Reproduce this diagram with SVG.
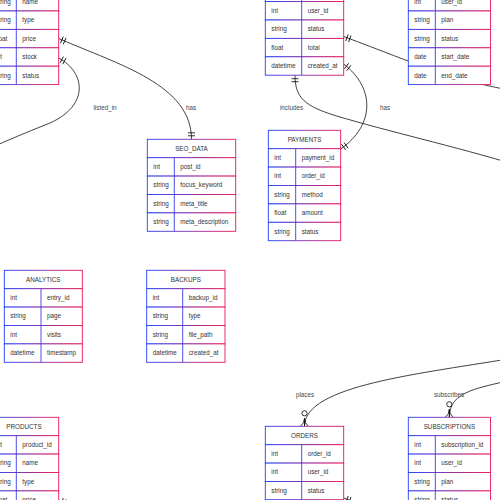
<svg xmlns="http://www.w3.org/2000/svg" width="500" height="500" viewBox="0 0 500 500">
<defs>
<linearGradient id="grad" x1="0" y1="0" x2="1" y2="0">
<stop offset="0" stop-color="#1f3fff"/>
<stop offset="1" stop-color="#f01450"/>
</linearGradient>
<marker id="one" viewBox="-10 -5 12 10" refX="0" refY="0" markerWidth="12" markerHeight="10" markerUnits="userSpaceOnUse" orient="auto-start-reverse" overflow="visible">
<path d="M-3.5,-3.5 V3.5 M-6.5,-3.5 V3.5" fill="none" stroke="#000" stroke-width="0.8"/>
</marker>
<marker id="many0" viewBox="-18 -6 20 12" refX="0" refY="0" markerWidth="20" markerHeight="12" markerUnits="userSpaceOnUse" orient="auto" overflow="visible">
<path d="M-8,0 Q-3,0 0,-4 M-8,0 L0,0 M-8,0 Q-3,0 0,4" fill="none" stroke="#000" stroke-width="0.8"/>
<circle cx="-13" cy="0" r="2.6" fill="#fff" stroke="#000" stroke-width="0.8"/>
</marker>
</defs>
<style>
.b{fill:#fff;stroke:url(#grad);stroke-width:0.9}
.dv{stroke:#3b3ae6;stroke-width:0.9}
.t{font-family:"Liberation Sans",Arial,sans-serif;font-size:6.3px;fill:#333}
.h{text-anchor:middle}
.e{fill:none;stroke:#111;stroke-width:0.8}
.lbl{font-family:"Liberation Sans",Arial,sans-serif;font-size:6.3px;fill:#444;text-anchor:middle}
</style>
<rect width="500" height="500" fill="#fff"/>

<g id="connectors">
<path class="e" d="M58.7,38.5 C120,65 191.5,85 191.5,139.3" marker-start="url(#one)" marker-end="url(#one)"/>
<path class="e" d="M58.7,38.5 C120,65 191.5,85 191.5,139.3" transform="translate(0,461.5)" marker-start="url(#one)"/>
<path class="e" d="M58.7,58 C85,72 90,105 50,123 C35,129 15,137 -5,146" marker-start="url(#one)"/>
<path class="e" d="M343.7,64 C375,88 375,125 340.7,149" marker-start="url(#one)" marker-end="url(#one)"/>
<path class="e" d="M295,75.2 C295,98 305,106 335,115.5 C390,132 450,145 520,166" marker-start="url(#one)"/>
<path class="e" d="M343.7,36.5 C420,65 450,80 520,92" marker-start="url(#one)"/>
<path class="e" d="M343.7,36.5 C420,65 450,80 520,92" transform="translate(0,461.5)" marker-start="url(#one)"/>
<path class="e" d="M520,357 C420,374 304.5,385 304.5,426.3" marker-end="url(#many0)"/>
<path class="e" d="M520,378 C480,388 449.3,390 449.3,417.3" marker-end="url(#many0)"/>
<text class="lbl" x="105" y="110">listed_in</text>
<text class="lbl" x="191" y="110">has</text>
<text class="lbl" x="291.5" y="110">includes</text>
<text class="lbl" x="385" y="110">has</text>
<text class="lbl" x="305" y="396.5">places</text>
<text class="lbl" x="449" y="396.5">subscribes</text>
</g>

<g id="products" transform="translate(-10.7,-44.2)">
<rect class="b" width="69.4" height="18.4"/>
<rect class="b" y="18.4" width="69.4" height="18.4"/>
<rect class="b" y="36.8" width="69.4" height="18.4"/>
<rect class="b" y="55.2" width="69.4" height="18.4"/>
<rect class="b" y="73.6" width="69.4" height="18.4"/>
<rect class="b" y="92" width="69.4" height="18.4"/>
<rect class="b" y="110.4" width="69.4" height="18.4"/>
<line class="dv" x1="27" y1="18.4" x2="27" y2="128.8"/>
<text class="t h" x="34.7" y="11.4">PRODUCTS</text>
<text class="t" x="6" y="29.8">int</text><text class="t" x="33" y="29.8">product_id</text>
<text class="t" x="6" y="48.2">string</text><text class="t" x="33" y="48.2">name</text>
<text class="t" x="6" y="66.6">string</text><text class="t" x="33" y="66.6">type</text>
<text class="t" x="6" y="85">float</text><text class="t" x="33" y="85">price</text>
<text class="t" x="6" y="103.4">int</text><text class="t" x="33" y="103.4">stock</text>
<text class="t" x="6" y="121.8">string</text><text class="t" x="33" y="121.8">status</text>
</g>

<g id="products-b" transform="translate(-10.7,417.3)">
<rect class="b" width="69.4" height="18.4"/>
<rect class="b" y="18.4" width="69.4" height="18.4"/>
<rect class="b" y="36.8" width="69.4" height="18.4"/>
<rect class="b" y="55.2" width="69.4" height="18.4"/>
<rect class="b" y="73.6" width="69.4" height="18.4"/>
<rect class="b" y="92" width="69.4" height="18.4"/>
<rect class="b" y="110.4" width="69.4" height="18.4"/>
<line class="dv" x1="27" y1="18.4" x2="27" y2="128.8"/>
<text class="t h" x="34.7" y="11.4">PRODUCTS</text>
<text class="t" x="6" y="29.8">int</text><text class="t" x="33" y="29.8">product_id</text>
<text class="t" x="6" y="48.2">string</text><text class="t" x="33" y="48.2">name</text>
<text class="t" x="6" y="66.6">string</text><text class="t" x="33" y="66.6">type</text>
<text class="t" x="6" y="85">float</text><text class="t" x="33" y="85">price</text>
<text class="t" x="6" y="103.4">int</text><text class="t" x="33" y="103.4">stock</text>
<text class="t" x="6" y="121.8">string</text><text class="t" x="33" y="121.8">status</text>
</g>

<g id="orders" transform="translate(265.3,-35.2)">
<rect class="b" width="78.4" height="18.4"/>
<rect class="b" y="18.4" width="78.4" height="18.4"/>
<rect class="b" y="36.8" width="78.4" height="18.4"/>
<rect class="b" y="55.2" width="78.4" height="18.4"/>
<rect class="b" y="73.6" width="78.4" height="18.4"/>
<rect class="b" y="92" width="78.4" height="18.4"/>
<line class="dv" x1="36.4" y1="18.4" x2="36.4" y2="110.4"/>
<text class="t h" x="39.2" y="11.4">ORDERS</text>
<text class="t" x="6" y="29.8">int</text><text class="t" x="42.4" y="29.8">order_id</text>
<text class="t" x="6" y="48.2">int</text><text class="t" x="42.4" y="48.2">user_id</text>
<text class="t" x="6" y="66.6">string</text><text class="t" x="42.4" y="66.6">status</text>
<text class="t" x="6" y="85">float</text><text class="t" x="42.4" y="85">total</text>
<text class="t" x="6" y="103.4">datetime</text><text class="t" x="42.4" y="103.4">created_at</text>
</g>

<g id="orders-b" transform="translate(265.3,426.3)">
<rect class="b" width="78.4" height="18.4"/>
<rect class="b" y="18.4" width="78.4" height="18.4"/>
<rect class="b" y="36.8" width="78.4" height="18.4"/>
<rect class="b" y="55.2" width="78.4" height="18.4"/>
<rect class="b" y="73.6" width="78.4" height="18.4"/>
<rect class="b" y="92" width="78.4" height="18.4"/>
<line class="dv" x1="36.4" y1="18.4" x2="36.4" y2="110.4"/>
<text class="t h" x="39.2" y="11.4">ORDERS</text>
<text class="t" x="6" y="29.8">int</text><text class="t" x="42.4" y="29.8">order_id</text>
<text class="t" x="6" y="48.2">int</text><text class="t" x="42.4" y="48.2">user_id</text>
<text class="t" x="6" y="66.6">string</text><text class="t" x="42.4" y="66.6">status</text>
<text class="t" x="6" y="85">float</text><text class="t" x="42.4" y="85">total</text>
<text class="t" x="6" y="103.4">datetime</text><text class="t" x="42.4" y="103.4">created_at</text>
</g>

<g id="subscriptions" transform="translate(408.3,-44.2)">
<rect class="b" width="82.2" height="18.4"/>
<rect class="b" y="18.4" width="82.2" height="18.4"/>
<rect class="b" y="36.8" width="82.2" height="18.4"/>
<rect class="b" y="55.2" width="82.2" height="18.4"/>
<rect class="b" y="73.6" width="82.2" height="18.4"/>
<rect class="b" y="92" width="82.2" height="18.4"/>
<rect class="b" y="110.4" width="82.2" height="18.4"/>
<line class="dv" x1="27" y1="18.4" x2="27" y2="128.8"/>
<text class="t h" x="41.1" y="11.4">SUBSCRIPTIONS</text>
<text class="t" x="6" y="29.8">int</text><text class="t" x="33" y="29.8">subscription_id</text>
<text class="t" x="6" y="48.2">int</text><text class="t" x="33" y="48.2">user_id</text>
<text class="t" x="6" y="66.6">string</text><text class="t" x="33" y="66.6">plan</text>
<text class="t" x="6" y="85">string</text><text class="t" x="33" y="85">status</text>
<text class="t" x="6" y="103.4">date</text><text class="t" x="33" y="103.4">start_date</text>
<text class="t" x="6" y="121.8">date</text><text class="t" x="33" y="121.8">end_date</text>
</g>

<g id="subscriptions-b" transform="translate(408.3,417.3)">
<rect class="b" width="82.2" height="18.4"/>
<rect class="b" y="18.4" width="82.2" height="18.4"/>
<rect class="b" y="36.8" width="82.2" height="18.4"/>
<rect class="b" y="55.2" width="82.2" height="18.4"/>
<rect class="b" y="73.6" width="82.2" height="18.4"/>
<rect class="b" y="92" width="82.2" height="18.4"/>
<rect class="b" y="110.4" width="82.2" height="18.4"/>
<line class="dv" x1="27" y1="18.4" x2="27" y2="128.8"/>
<text class="t h" x="41.1" y="11.4">SUBSCRIPTIONS</text>
<text class="t" x="6" y="29.8">int</text><text class="t" x="33" y="29.8">subscription_id</text>
<text class="t" x="6" y="48.2">int</text><text class="t" x="33" y="48.2">user_id</text>
<text class="t" x="6" y="66.6">string</text><text class="t" x="33" y="66.6">plan</text>
<text class="t" x="6" y="85">string</text><text class="t" x="33" y="85">status</text>
<text class="t" x="6" y="103.4">date</text><text class="t" x="33" y="103.4">start_date</text>
<text class="t" x="6" y="121.8">date</text><text class="t" x="33" y="121.8">end_date</text>
</g>

<g id="seo_data" transform="translate(147.3,139.3)">
<rect class="b" width="88.4" height="18.4"/>
<rect class="b" y="18.4" width="88.4" height="18.4"/>
<rect class="b" y="36.8" width="88.4" height="18.4"/>
<rect class="b" y="55.2" width="88.4" height="18.4"/>
<rect class="b" y="73.6" width="88.4" height="18.4"/>
<line class="dv" x1="27" y1="18.4" x2="27" y2="92"/>
<text class="t h" x="44.2" y="11.4">SEO_DATA</text>
<text class="t" x="6" y="29.8">int</text><text class="t" x="33" y="29.8">post_id</text>
<text class="t" x="6" y="48.2">string</text><text class="t" x="33" y="48.2">focus_keyword</text>
<text class="t" x="6" y="66.6">string</text><text class="t" x="33" y="66.6">meta_title</text>
<text class="t" x="6" y="85">string</text><text class="t" x="33" y="85">meta_description</text>
</g>

<g id="payments" transform="translate(268.3,130.3)">
<rect class="b" width="72.4" height="18.4"/>
<rect class="b" y="18.4" width="72.4" height="18.4"/>
<rect class="b" y="36.8" width="72.4" height="18.4"/>
<rect class="b" y="55.2" width="72.4" height="18.4"/>
<rect class="b" y="73.6" width="72.4" height="18.4"/>
<rect class="b" y="92" width="72.4" height="18.4"/>
<line class="dv" x1="27.4" y1="18.4" x2="27.4" y2="110.4"/>
<text class="t h" x="36.2" y="11.4">PAYMENTS</text>
<text class="t" x="6" y="29.8">int</text><text class="t" x="33.4" y="29.8">payment_id</text>
<text class="t" x="6" y="48.2">int</text><text class="t" x="33.4" y="48.2">order_id</text>
<text class="t" x="6" y="66.6">string</text><text class="t" x="33.4" y="66.6">method</text>
<text class="t" x="6" y="85">float</text><text class="t" x="33.4" y="85">amount</text>
<text class="t" x="6" y="103.4">string</text><text class="t" x="33.4" y="103.4">status</text>
</g>

<g id="analytics" transform="translate(4.3,270.3)">
<rect class="b" width="78" height="18.4"/>
<rect class="b" y="18.4" width="78" height="18.4"/>
<rect class="b" y="36.8" width="78" height="18.4"/>
<rect class="b" y="55.2" width="78" height="18.4"/>
<rect class="b" y="73.6" width="78" height="18.4"/>
<line class="dv" x1="36.7" y1="18.4" x2="36.7" y2="92"/>
<text class="t h" x="39" y="11.4">ANALYTICS</text>
<text class="t" x="6" y="29.8">int</text><text class="t" x="42.7" y="29.8">entry_id</text>
<text class="t" x="6" y="48.2">string</text><text class="t" x="42.7" y="48.2">page</text>
<text class="t" x="6" y="66.6">int</text><text class="t" x="42.7" y="66.6">visits</text>
<text class="t" x="6" y="85">datetime</text><text class="t" x="42.7" y="85">timestamp</text>
</g>

<g id="backups" transform="translate(146.7,270.3)">
<rect class="b" width="78.3" height="18.4"/>
<rect class="b" y="18.4" width="78.3" height="18.4"/>
<rect class="b" y="36.8" width="78.3" height="18.4"/>
<rect class="b" y="55.2" width="78.3" height="18.4"/>
<rect class="b" y="73.6" width="78.3" height="18.4"/>
<line class="dv" x1="36" y1="18.4" x2="36" y2="92"/>
<text class="t h" x="39.15" y="11.4">BACKUPS</text>
<text class="t" x="6" y="29.8">int</text><text class="t" x="42" y="29.8">backup_id</text>
<text class="t" x="6" y="48.2">string</text><text class="t" x="42" y="48.2">type</text>
<text class="t" x="6" y="66.6">string</text><text class="t" x="42" y="66.6">file_path</text>
<text class="t" x="6" y="85">datetime</text><text class="t" x="42" y="85">created_at</text>
</g>
</svg>
